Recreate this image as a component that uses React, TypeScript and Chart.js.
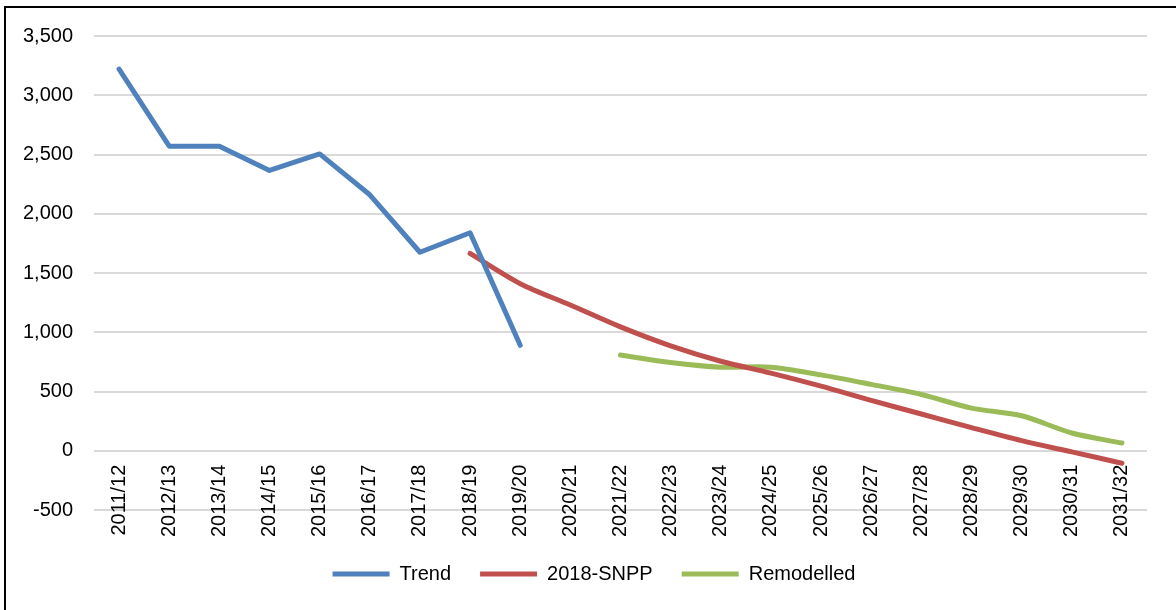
import React, { useEffect, useRef } from "react";
import { Chart, registerables } from "chart.js";

Chart.register(...registerables);

const categories = [
  "2011/12", "2012/13", "2013/14", "2014/15", "2015/16", "2016/17", "2017/18",
  "2018/19", "2019/20", "2020/21", "2021/22", "2022/23", "2023/24", "2024/25",
  "2025/26", "2026/27", "2027/28", "2028/29", "2029/30", "2030/31", "2031/32",
];

const trend = [3220, 2570, 2570, 2365, 2505, 2160, 1675, 1840, 890, null, null, null, null, null, null, null, null, null, null, null, null];
const snpp = [null, null, null, null, null, null, null, 1665, 1410, 1230, 1045, 885, 755, 655, 545, 425, 310, 195, 85, -10, -105];
const remodelled = [null, null, null, null, null, null, null, null, null, null, 808, 745, 705, 705, 640, 560, 475, 360, 295, 150, 65];

const yMin = -500;
const yMax = 3500;
const yStep = 500;

const FONT = "'Liberation Sans', Arial, sans-serif";

export default function App() {
  const ref = useRef<HTMLCanvasElement | null>(null);

  useEffect(() => {
    if (!ref.current) return;
    const line = (label: string, data: (number | null)[], color: string, tension: number) => ({
      label,
      data,
      borderColor: color,
      backgroundColor: color,
      borderWidth: 5,
      borderCapStyle: "round" as const,
      borderJoinStyle: "round" as const,
      pointRadius: 0,
      pointHoverRadius: 0,
      tension,
      fill: false,
    });
    const chart = new Chart(ref.current, {
      type: "line",
      data: {
        labels: categories,
        datasets: [
          line("Trend", trend, "#4F81BD", 0),
          line("2018-SNPP", snpp, "#C0504D", 0.3),
          line("Remodelled", remodelled, "#9BBB59", 0.3),
        ],
      },
      options: {
        responsive: false,
        animation: false,
        layout: { padding: { left: 20, top: 36, right: 8, bottom: 16 } },
        plugins: {
          tooltip: { enabled: false },
          legend: {
            position: "bottom",
            title: { display: true, text: " ", padding: 0, font: { size: 20, lineHeight: 1.25 } },
            labels: {
              usePointStyle: true,
              pointStyle: "line",
              pointStyleWidth: 57,
              padding: 29,
              color: "#000",
              font: { family: FONT, size: 20 },
            },
          },
        },
        scales: {
          x: {
            position: { y: 0 },
            offset: true,
            grid: { display: false },
            border: { display: false },
            ticks: {
              autoSkip: false,
              minRotation: 90,
              maxRotation: 90,
              padding: 6,
              color: "#000",
              font: { family: FONT, size: 20 },
            },
          },
          y: {
            min: yMin,
            max: yMax,
            grid: { color: "#d9d9d9", lineWidth: 2, drawTicks: false },
            border: { display: false },
            ticks: {
              stepSize: yStep,
              padding: 21,
              color: "#000",
              font: { family: FONT, size: 20 },
              callback: (v: any) => Number(v).toLocaleString("en-US"),
            },
            afterFit: (s: any) => {
              s.width = 74;
            },
          },
          yRightSpace: {
            type: "linear",
            position: "right",
            grid: { display: false },
            border: { display: false },
            ticks: { display: false },
            afterFit: (s: any) => {
              s.width = 21;
            },
          },
        },
      },
    });
    return () => chart.destroy();
  }, []);

  return (
    <div style={{ position: "fixed", left: 0, top: 0, width: 1176, height: 610, overflow: "hidden", background: "#fff" }}>
      <canvas ref={ref} width={1176} height={610} style={{ display: "block" }} />
      <div
        style={{
          position: "absolute",
          left: 4,
          top: 6,
          right: -20,
          bottom: -20,
          borderLeft: "2px solid #000",
          borderTop: "2px solid #000",
          pointerEvents: "none",
        }}
      />
    </div>
  );
}
